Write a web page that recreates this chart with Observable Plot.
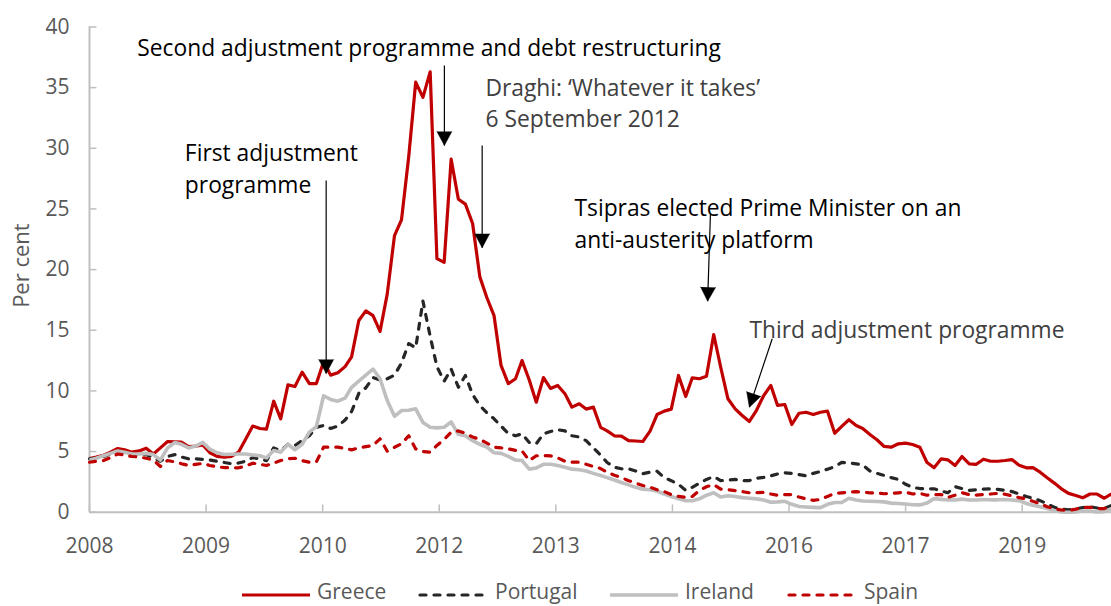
<!DOCTYPE html>
<html>
<head>
<meta charset="utf-8">
<script src="https://cdn.jsdelivr.net/npm/d3@7"></script>
<script src="https://cdn.jsdelivr.net/npm/@observablehq/plot@0.6"></script>
<style>
  body { margin: 0; background: #fff; font-family: "Open Sans", Lato, sans-serif; }
  #wrap { position: relative; width: 1111px; height: 606px; overflow: hidden; background: #fff; }
  #chart { height: 578px; }
  #legend { position: absolute; left: 0; top: 578px; width: 1111px; height: 28px; }
  .sw { position: absolute; top: 0; }
  .lab { position: absolute; top: 0; font-size: 21px; line-height: 26px; color: #595959; white-space: nowrap; }
</style>
</head>
<body>
<div id="wrap"><div id="chart"></div><div id="legend"></div></div>
<script>
// Monthly 10-year government bond yields, per cent (month-end, Jan 2008 onward)
const greece = [4.43,4.55,4.7,4.95,5.25,5.15,4.95,5.05,5.28,4.8,5.3,5.83,5.8,5.77,5.4,5.45,5.55,4.9,4.6,4.53,4.6,4.95,6.0,7.1,6.9,6.85,9.15,7.7,10.5,10.36,11.55,10.6,10.6,12.4,11.3,11.5,12.0,12.8,15.8,16.6,16.2,14.9,18.0,22.8,24.1,29.3,35.45,34.2,36.3,20.9,20.6,29.1,25.8,25.4,23.8,19.4,17.7,16.2,12.1,10.6,11.0,12.5,10.9,9.07,11.1,10.2,10.45,9.76,8.66,8.94,8.5,8.66,7.0,6.7,6.3,6.27,5.9,5.87,5.83,6.68,8.05,8.33,8.5,11.27,9.54,11.08,11.0,11.2,14.65,11.95,9.35,8.52,7.97,7.48,8.38,9.6,10.45,8.8,8.88,7.23,8.16,8.24,8.05,8.24,8.33,6.51,7.07,7.62,7.15,6.9,6.4,5.97,5.42,5.36,5.64,5.69,5.58,5.36,4.12,3.66,4.4,4.32,3.85,4.59,3.99,3.95,4.37,4.2,4.2,4.26,4.34,3.87,3.66,3.68,3.3,2.84,2.4,1.93,1.55,1.38,1.19,1.5,1.5,1.15,1.52];
const portugal = [4.4,4.45,4.6,4.8,4.95,4.85,4.7,4.75,4.75,4.5,4.2,4.6,4.75,4.55,4.4,4.4,4.35,4.3,4.2,4.1,4.0,4.05,4.2,4.5,4.4,4.25,5.3,5.05,5.6,5.5,5.9,6.3,7.0,7.15,6.9,7.1,7.6,8.3,9.8,10.25,11.1,10.9,11.0,11.3,12.3,13.9,13.55,17.4,14.5,12.0,10.8,11.8,10.3,11.27,9.7,8.8,8.2,7.7,7.1,6.5,6.3,6.46,5.75,5.64,6.46,6.65,6.8,6.7,6.3,6.2,5.9,5.3,4.7,4.1,3.7,3.58,3.58,3.4,3.17,3.3,3.38,2.85,2.6,2.3,1.8,2.05,2.4,2.7,2.94,2.6,2.65,2.7,2.6,2.61,2.8,2.87,3.0,3.15,3.25,3.2,3.1,3.0,3.2,3.35,3.55,3.75,4.1,4.05,3.99,3.9,3.4,3.2,3.03,2.85,2.7,2.3,2.05,1.95,1.93,1.93,1.75,1.6,2.1,1.95,1.8,1.85,1.9,1.92,1.88,1.8,1.7,1.5,1.3,1.15,0.95,0.68,0.4,0.25,0.2,0.28,0.38,0.45,0.35,0.3,0.55];
const ireland = [4.3,4.45,4.65,4.85,5.05,4.95,4.8,4.8,4.85,4.75,4.3,5.3,5.75,5.6,5.3,5.45,5.75,5.2,4.9,4.76,4.78,4.8,4.8,4.72,4.65,4.48,5.08,4.95,5.6,5.15,5.6,6.6,7.05,9.6,9.3,9.15,9.4,10.3,10.8,11.3,11.8,11.0,9.2,7.9,8.38,8.4,8.52,7.4,7.0,6.95,7.0,7.45,6.4,6.3,5.9,5.6,5.36,4.9,4.85,4.6,4.3,4.26,3.55,3.65,3.95,3.95,3.85,3.7,3.55,3.5,3.4,3.2,3.03,2.85,2.65,2.45,2.25,2.05,1.9,1.85,1.75,1.5,1.3,1.1,0.95,0.95,1.1,1.4,1.6,1.25,1.35,1.3,1.2,1.15,1.1,1.0,0.82,0.85,0.9,0.65,0.47,0.43,0.4,0.38,0.65,0.8,0.8,1.15,1.0,0.92,0.9,0.88,0.85,0.75,0.72,0.68,0.62,0.6,0.75,1.12,1.06,1.0,1.0,1.08,1.0,1.0,1.05,1.02,1.02,1.05,1.0,0.95,0.72,0.58,0.45,0.3,0.15,0.02,0.0,0.02,0.1,0.1,0.02,0.05,0.28];
const spain = [4.12,4.2,4.26,4.5,4.8,4.7,4.59,4.55,4.45,4.3,3.77,4.26,4.15,4.0,3.85,3.95,4.02,3.85,3.75,3.68,3.66,3.66,3.8,4.04,3.95,3.85,4.05,4.26,4.4,4.45,4.25,4.12,4.15,5.36,5.36,5.36,5.25,5.14,5.3,5.4,5.5,6.05,5.03,5.35,5.64,6.3,5.22,5.0,4.95,5.5,6.0,6.6,6.7,6.5,6.2,6.0,5.7,5.36,5.3,5.22,5.1,5.05,4.26,4.65,4.67,4.65,4.48,4.2,4.12,4.12,3.95,3.77,3.6,3.3,3.05,2.85,2.6,2.4,2.2,2.05,1.85,1.7,1.45,1.3,1.22,1.3,1.8,2.1,2.28,1.9,1.85,1.78,1.7,1.6,1.62,1.63,1.5,1.4,1.45,1.45,1.25,1.1,0.98,1.05,1.3,1.55,1.6,1.65,1.7,1.65,1.6,1.58,1.52,1.55,1.6,1.65,1.5,1.55,1.4,1.45,1.45,1.22,1.4,1.6,1.45,1.4,1.45,1.5,1.55,1.48,1.35,1.2,1.1,0.9,0.7,0.45,0.28,0.18,0.14,0.25,0.38,0.41,0.3,0.3,0.45];

const yTicks = [0, 5, 10, 15, 20, 25, 30, 35, 40];
const xTickLabels = ["2008", "2009", "2010", "2012", "2013", "2014", "2016", "2017", "2019"];
const tickStepDays = 500; // date-axis major unit

const annotationsBlack = [
  {text: "Second adjustment programme and debt restructuring", date: "2008-08-23", value: 38.24},
  {text: "First adjustment", date: "2009-03-15", value: 29.59},
  {text: "programme", date: "2009-03-15", value: 26.95},
  {text: "Tsipras elected Prime Minister on an", date: "2013-10-11", value: 25.05},
  {text: "anti-austerity platform", date: "2013-10-11", value: 22.36}
];
const annotationsGrey = [
  {text: "Draghi: \u2018Whatever it takes\u2019", date: "2012-09-24", value: 34.95},
  {text: "6 September 2012", date: "2012-09-24", value: 32.33},
  {text: "Third adjustment programme", date: "2015-10-31", value: 14.97}
];
const arrows = [
  {d1: "2010-11-11", v1: 27.35, d2: "2010-11-11", v2: 11.43, rotate: 180},
  {d1: "2012-04-01", v1: 36.82, d2: "2012-04-01", v2: 30.23, rotate: 180},
  {d1: "2012-09-10", v1: 30.23, d2: "2012-09-10", v2: 21.8, rotate: 180},
  {d1: "2015-05-17", v1: 24.6, d2: "2015-05-05", v2: 17.4, rotate: 181.8},
  {d1: "2016-02-06", v1: 14.3, d2: "2015-10-31", v2: 8.66, rotate: 198.4}
];

const dates = d3.range(greece.length).map(i => new Date(Date.UTC(2008, i + 1, 0)));
const rows = (arr) => arr.map((v, i) => ({date: dates[i], value: v}));
const tickDates = xTickLabels.map((_, k) => d3.utcDay.offset(dates[0], tickStepDays * k));
const labelOf = new Map(tickDates.map((d, k) => [+d, xTickLabels[k]]));

const series = [
  {name: "Greece", data: greece, color: "#C00000", width: 3.2, dash: null},
  {name: "Portugal", data: portugal, color: "#262626", width: 3.2, dash: "6,8"},
  {name: "Ireland", data: ireland, color: "#BFBFBF", width: 3.6, dash: null},
  {name: "Spain", data: spain, color: "#C00000", width: 3.2, dash: "6,8"}
];

const axisGrey = "#BFBFBF";
const textGrey = "#595959";
const font = "'Open Sans', Lato, sans-serif";

const chart = Plot.plot({
  width: 1111,
  height: 578,
  marginLeft: 89,
  marginRight: 0,
  marginTop: 26.5,
  marginBottom: 66.3,
  style: {fontFamily: font, fontSize: "21px", background: "white", overflow: "visible"},
  x: {type: "utc", domain: [dates[0], dates[dates.length - 1]]},
  y: {domain: [0, 40]},
  marks: [
    Plot.ruleX(tickDates, {x: d => d, y1: 0, y2: 0.6, stroke: axisGrey, strokeWidth: 1.5}),
    Plot.ruleY(yTicks, {y: d => d, x1: dates[0], x2: d3.utcDay.offset(dates[0], 32), stroke: axisGrey, strokeWidth: 1.5}),
    Plot.ruleY([0], {stroke: axisGrey, strokeWidth: 2}),
    Plot.ruleX([dates[0]], {stroke: axisGrey, strokeWidth: 2}),
    Plot.axisX(tickDates, {tickSize: 0, tickPadding: 26, tickFormat: d => labelOf.get(+d), label: null, fontSize: 21, fill: textGrey}),
    Plot.axisY(yTicks, {tickSize: 0, tickPadding: 20, label: null, fontSize: 21, fill: textGrey}),
    Plot.text(["Per cent"], {frameAnchor: "left", textAnchor: "middle", rotate: -90, dx: -67.5, dy: -4, fontSize: 22, fill: textGrey}),
    ...series.map(s => Plot.line(rows(s.data), {
      x: "date", y: "value", stroke: s.color, strokeWidth: s.width,
      strokeDasharray: s.dash, strokeLinecap: s.dash ? "round" : "butt", strokeLinejoin: "round"
    })),
    Plot.link(arrows, {x1: d => new Date(d.d1), y1: "v1", x2: d => new Date(d.d2), y2: "v2", stroke: "black", strokeWidth: 1.2}),
    Plot.vector(arrows, {x: d => new Date(d.d2), y: "v2", rotate: "rotate", length: 14, r: 7.5, anchor: "end", shape: "spike", fill: "black", stroke: "black", strokeWidth: 0.5}),
    Plot.text(annotationsBlack, {x: d => new Date(d.date), y: "value", text: "text", textAnchor: "start", fontSize: 22.8, fill: "#000"}),
    Plot.text(annotationsGrey, {x: d => new Date(d.date), y: "value", text: "text", textAnchor: "start", fontSize: 22.8, fill: "#404040"})
  ]
});
document.getElementById("chart").appendChild(chart);

// Legend below the chart
const legend = document.getElementById("legend");
const legendPos = [241, 419, 609, 788];
series.forEach((s, k) => {
  const L = legendPos[k];
  const ns = "http://www.w3.org/2000/svg";
  const svg = document.createElementNS(ns, "svg");
  svg.setAttribute("width", 72); svg.setAttribute("height", 26);
  svg.setAttribute("class", "sw");
  svg.style.left = (L - 1) + "px";
  const ln = document.createElementNS(ns, "line");
  ln.setAttribute("x1", 2); ln.setAttribute("x2", 70);
  ln.setAttribute("y1", 17); ln.setAttribute("y2", 17);
  ln.setAttribute("stroke", s.color);
  ln.setAttribute("stroke-width", s.width);
  if (s.dash) { ln.setAttribute("stroke-dasharray", s.dash); ln.setAttribute("stroke-linecap", "round"); }
  svg.appendChild(ln);
  legend.appendChild(svg);
  const lab = document.createElement("div");
  lab.className = "lab";
  lab.style.left = (L + 76) + "px";
  lab.textContent = s.name;
  legend.appendChild(lab);
});
</script>
</body>
</html>
